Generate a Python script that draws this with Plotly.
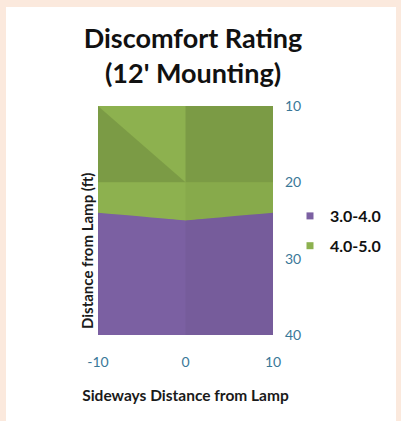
import plotly.graph_objects as go

# ---- data ----
x_vals = [-10, 0, 10]            # sideways distance from lamp
y_vals = [10, 20, 30, 40]        # distance from lamp (ft)
# discomfort rating at each (y, x) grid node
z_rating = [
    [4.9, 4.9, 4.8],
    [4.4, 4.5, 4.4],
    [3.4, 3.5, 3.4],
    [3.1, 3.1, 3.1],
]
band_labels = ["3.0-4.0", "4.0-5.0"]
band_colors = ["#7b60a2", "#8db14f"]

fig = go.Figure()

fig.add_trace(go.Contour(
    x=x_vals, y=y_vals, z=z_rating,
    zmin=3, zmax=5, zauto=False,
    contours=dict(start=3, end=5, size=1, coloring="fill", showlines=False),
    colorscale=[[0, band_colors[0]], [0.5, band_colors[0]], [0.5, band_colors[1]], [1, band_colors[1]]],
    line=dict(width=0, smoothing=0),
    showscale=False, showlegend=False, hoverinfo="skip",
))

# surface facet shading (derived from grid cells)
def cell_poly(pts, opacity):
    xs = [p[0] for p in pts] + [pts[0][0]]
    ys = [p[1] for p in pts] + [pts[0][1]]
    fig.add_trace(go.Scatter(x=xs, y=ys, mode="lines", fill="toself",
                             fillcolor=f"rgba(0,0,0,{opacity})", line=dict(width=0),
                             showlegend=False, hoverinfo="skip"))

x0, x1, x2 = x_vals
y0, y1, y2, y3 = y_vals
# top-left cell, lower-left triangle (darker)
cell_poly([(x0, y0), (x0, y1), (x1, y1)], 0.12)
# top-right cell (darker)
cell_poly([(x1, y0), (x2, y0), (x2, y1), (x1, y1)], 0.12)
# right column lower cells (slightly darker)
cell_poly([(x1, y1), (x2, y1), (x2, y3), (x1, y3)], 0.04)

# legend entries
for lab, col in zip(band_labels, band_colors):
    fig.add_trace(go.Scatter(x=[None], y=[None], mode="markers", name=lab, legendgroup=lab,
                             marker=dict(symbol="square", size=7, color=col)))

tick_font = dict(family="Lato", size=14, color="#3a7898")

fig.update_layout(
    width=401, height=421,
    margin=dict(l=98, r=128, t=106, b=86, autoexpand=False),
    paper_bgcolor="#fbe9dd",
    plot_bgcolor="white",
    font=dict(family="Lato", color="#111"),
    title=dict(text="<b>Discomfort Rating<br>(12' Mounting)</b>",
               font=dict(family="Lato", size=27, color="#111"),
               x=(193 - 98) / 175, xref="paper", xanchor="center",
               y=1 - 48 / 421, yref="container", yanchor="middle"),
    xaxis=dict(range=[-10, 10], tickvals=x_vals, ticktext=[str(v) for v in x_vals],
               showgrid=False, zeroline=False,
               tickfont=tick_font, ticks="", ticklabelstandoff=17,
               title=dict(text="<b>Sideways Distance from Lamp</b>",
                          font=dict(family="Lato", size=15.5, color="#1a1a1a"), standoff=21)),
    yaxis=dict(range=[40, 10], tickvals=y_vals, side="right", showgrid=False,
               zeroline=False, tickfont=tick_font, ticks="", ticklabelstandoff=11),
    legend=dict(x=(290 - 98) / 175, y=(335 - 231) / 229, xanchor="left", yanchor="middle",
                font=dict(family="Lato", size=16, color="#111", weight="bold"),
                itemwidth=30, tracegroupgap=6, bgcolor="rgba(0,0,0,0)"),
    showlegend=True,
    shapes=[dict(type="rect", xref="paper", yref="paper", layer="below",
                 x0=-92 / 175, x1=298 / 175, y0=-86 / 229, y1=(335 - 7) / 229,
                 fillcolor="white", line=dict(width=0))],
    annotations=[dict(text="<b>Distance from Lamp (ft)</b>", textangle=-90,
                      xref="paper", yref="paper", x=(87 - 98) / 175, y=(335 - 251) / 229,
                      xanchor="center", yanchor="middle", showarrow=False,
                      font=dict(family="Lato", size=15, color="#1a1a1a"))],
)

fig.write_html("out.html", config={"displayModeBar": False},
               post_script="document.body.style.margin='0px';")
